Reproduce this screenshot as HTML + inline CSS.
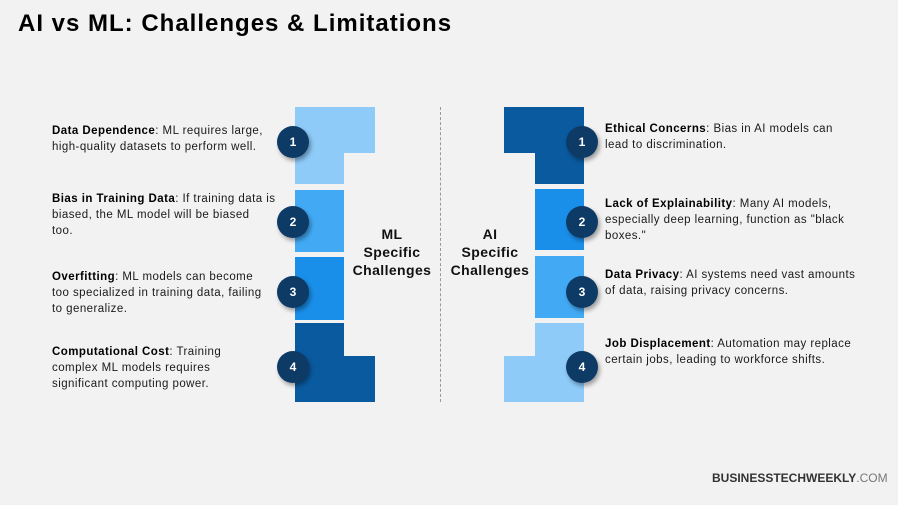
<!DOCTYPE html>
<html><head><style>
body{margin:0;width:898px;height:505px;background:#f2f2f2;position:relative;overflow:hidden;font-family:"Liberation Sans",sans-serif;color:#111}
.a{position:absolute}
.t{position:absolute;font-size:11.5px;line-height:16px;color:#1a1a1a;letter-spacing:0.45px;white-space:nowrap}
.t b{color:#000}
.c{position:absolute;width:32px;height:32px;border-radius:50%;background:#0e3a66;color:#fff;font-weight:bold;font-size:12px;text-align:center;line-height:32px;box-shadow:2px 3px 4px rgba(0,0,0,.35)}
.h{position:absolute;font-weight:bold;font-size:14px;line-height:18px;text-align:center;color:#111;letter-spacing:0.4px}
</style></head><body>
<div class="a" style="left:18px;top:10px;font-size:24px;font-weight:bold;color:#000;letter-spacing:1px">AI vs ML: Challenges &amp; Limitations</div>

<div class="a" style="left:295px;top:107px;width:80px;height:46px;background:#8ecbf9"></div>
<div class="a" style="left:295px;top:153px;width:49px;height:31px;background:#8ecbf9"></div>
<div class="a" style="left:295px;top:190px;width:49px;height:62px;background:#42aaf5"></div>
<div class="a" style="left:295px;top:257px;width:49px;height:63px;background:#1a8fea"></div>
<div class="a" style="left:295px;top:323px;width:49px;height:79px;background:#0a5aa0"></div>
<div class="a" style="left:295px;top:356px;width:80px;height:46px;background:#0a5aa0"></div>

<div class="a" style="left:504px;top:107px;width:80px;height:46px;background:#0a5aa0"></div>
<div class="a" style="left:535px;top:107px;width:49px;height:77px;background:#0a5aa0"></div>
<div class="a" style="left:535px;top:189px;width:49px;height:61px;background:#1a8fea"></div>
<div class="a" style="left:535px;top:256px;width:49px;height:62px;background:#42aaf5"></div>
<div class="a" style="left:535px;top:323px;width:49px;height:79px;background:#8ecbf9"></div>
<div class="a" style="left:504px;top:356px;width:80px;height:46px;background:#8ecbf9"></div>

<div class="a" style="left:440px;top:107px;height:295px;border-left:1px dashed #999"></div>

<div class="c" style="left:277px;top:126px">1</div>
<div class="c" style="left:277px;top:206px">2</div>
<div class="c" style="left:277px;top:276px">3</div>
<div class="c" style="left:277px;top:351px">4</div>
<div class="c" style="left:566px;top:126px">1</div>
<div class="c" style="left:566px;top:206px">2</div>
<div class="c" style="left:566px;top:276px">3</div>
<div class="c" style="left:566px;top:351px">4</div>

<div class="h" style="left:347px;top:225px;width:90px">ML<br>Specific<br>Challenges</div>
<div class="h" style="left:445px;top:225px;width:90px">AI<br>Specific<br>Challenges</div>

<div class="t" style="left:52px;top:123px"><b>Data Dependence</b>: ML requires large,<br>high-quality datasets to perform well.</div>
<div class="t" style="left:52px;top:191px"><b>Bias in Training Data</b>: If training data is<br>biased, the ML model will be biased<br>too.</div>
<div class="t" style="left:52px;top:269px"><b>Overfitting</b>: ML models can become<br>too specialized in training data, failing<br>to generalize.</div>
<div class="t" style="left:52px;top:344px"><b>Computational Cost</b>: Training<br>complex ML models requires<br>significant computing power.</div>

<div class="t" style="left:605px;top:121px"><b>Ethical Concerns</b>: Bias in AI models can<br>lead to discrimination.</div>
<div class="t" style="left:605px;top:196px"><b>Lack of Explainability</b>: Many AI models,<br>especially deep learning, function as "black<br>boxes."</div>
<div class="t" style="left:605px;top:267px"><b>Data Privacy</b>: AI systems need vast amounts<br>of data, raising privacy concerns.</div>
<div class="t" style="left:605px;top:336px"><b>Job Displacement</b>: Automation may replace<br>certain jobs, leading to workforce shifts.</div>

<div class="a" style="left:712px;top:471px;font-size:12px;color:#333;letter-spacing:0px"><b>BUSINESSTECHWEEKLY</b><span style="color:#777">.COM</span></div>
</body></html>
